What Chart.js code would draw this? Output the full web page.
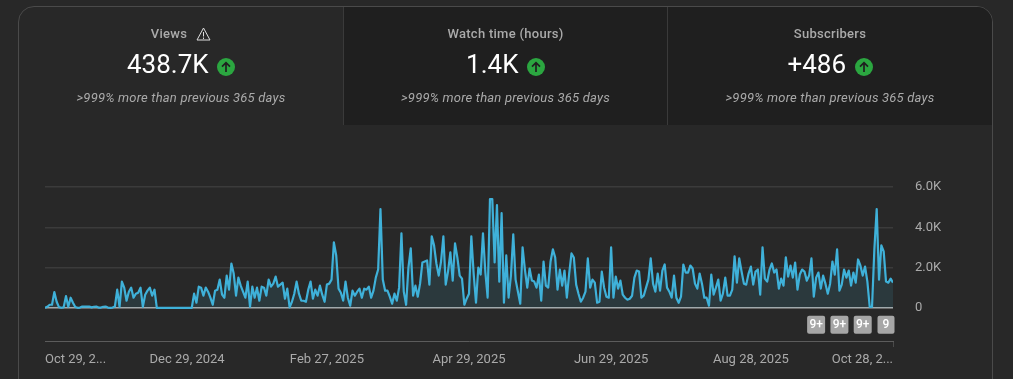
<!DOCTYPE html>
<html>
<head>
<meta charset="utf-8">
<script src="https://cdn.jsdelivr.net/npm/chart.js@4/dist/chart.umd.min.js"></script>
<style>
  html, body { margin: 0; padding: 0; background: #282828; width: 1013px; height: 379px; overflow: hidden; font-family: Roboto, sans-serif; }
  #myChart { position: absolute; left: 0; top: 125px; }
  .card { position: absolute; left: 18px; top: 6px; width: 973px; height: 400px; border: 1px solid #4a4a4a; border-radius: 16px; overflow: hidden; }
  .tab { position: absolute; top: 0; height: 118px; text-align: center; box-sizing: border-box; }
  .tab.off { background: #1f1f1f; border-left: 1px solid #3a3a3a; }
  .name { position: absolute; left: 0; right: 0; top: 19px; font-size: 13px; font-weight: 500; line-height: 16px; letter-spacing: 0.28px; color: #aaa; }
  .value { position: absolute; left: 0; right: 0; top: 39px; font-size: 26px; line-height: 36px; color: #fff; }
  .value svg { vertical-align: -3px; margin-left: 2px; }
  .delta { position: absolute; left: 0; right: 0; top: 83px; font-size: 13px; font-style: italic; line-height: 16px; letter-spacing: 0.2px; color: #aaa; }
  .warn { vertical-align: -3px; margin-left: 9px; }
</style>
</head>
<body>
<canvas id="myChart" width="1013" height="254"></canvas>
<div class="card" id="card"></div>
<script>
// top cards
const cardNames = ['Views', 'Watch time (hours)', 'Subscribers'];
const cardValues = ['438.7K', '1.4K', '+486'];
const cardDelta = '>999% more than previous 365 days';

// daily views, Oct 29 2024 -> Oct 28 2025
const viewValues = [
  0, 50, 150, 150, 780, 300, 30, 0, 20, 580, 50, 500, 250, 40, 0, 10, 60, 60, 60, 60,
  20, 50, 60, 10, 10, 50, 60, 10, 0, 10, 60, 900, 50, 1300, 1000, 350, 800, 1000, 500, 700,
  750, 1000, 50, 650, 850, 1000, 600, 900, 0, 0, 0, 0, 0, 0, 0, 0, 0, 0, 0, 0,
  0, 0, 0, 0, 700, 250, 1050, 1000, 600, 1000, 800, 500, 150, 850, 900, 1400, 650, 500, 1600, 900,
  2200, 1700, 600, 1500, 1100, 800, 500, 1300, 50, 1050, 500, 1000, 350, 1050, 1000, 600, 1400, 1050, 1200, 1550,
  1050, 1150, 1250, 450, 950, 20, 300, 700, 1300, 700, 350, 350, 300, 900, 1300, 450, 900, 600, 1100, 650,
  300, 1150, 1200, 1400, 3250, 2600, 950, 750, 350, 1300, 500, 100, 850, 600, 800, 950, 500, 950, 900, 1050,
  500, 850, 1500, 1900, 4900, 1400, 850, 850, 550, 200, 700, 350, 1000, 3700, 800, 150, 2000, 2950, 600, 1100,
  550, 1200, 2250, 2300, 2350, 1150, 3550, 3100, 2200, 1600, 2300, 3550, 1150, 1800, 2750, 1350, 3200, 2500, 1600, 1450,
  150, 450, 700, 3550, 1700, 250, 2000, 1650, 3700, 1800, 500, 5400, 5400, 2250, 5100, 1300, 4700, 250, 2600,
  500, 1600, 3650, 1400, 800, 200, 3000, 1900, 1000, 1950, 1350, 1300, 1000, 1650, 350, 2300, 1100, 1000, 2300, 2900,
  2500, 900, 1900, 1100, 1850, 500, 1700, 2700, 2500, 1150, 700, 300, 500, 800, 2450, 1000, 1400, 1250, 250, 300,
  1800, 1000, 550, 500, 3000, 500, 1550, 950, 1350, 650, 500, 400, 450, 600, 1500, 1850, 1800, 500, 600, 1000, 1400,
  2450, 1200, 800, 1700, 850, 1850, 2150, 1000, 800, 500, 1600, 500, 250, 550, 2150, 1750, 1750, 2100, 1950, 1200,
  950, 1700, 1200, 500, 500, 100, 1650, 650, 1000, 1400, 350, 700, 1500, 600, 600, 900, 2550, 1250, 2450, 1800,
  1200, 1150, 1700, 2050, 1150, 1800, 1900, 650, 3000, 1450, 1300, 1900, 2200, 1750, 1900, 950, 1450, 1100, 2500, 1550,
  2100, 1500, 2250, 900, 1650, 1900, 1800, 1350, 1600, 2450, 550, 1500, 1750, 950, 1600, 1200, 700, 1200, 2300, 1650,
  2900, 850, 1150, 1900, 1500, 1850, 1100, 1750, 1250, 2400, 2100, 1600, 2050, 1300, 50, 50, 2900, 4900, 1400, 3100,
  2800, 1300, 1250, 1450, 1250
];

// x ticks
const xTickDays = [0, 61, 121, 182, 243, 303, 364];
const xTickLabels = ['Oct 29, 2...', 'Dec 29, 2024', 'Feb 27, 2025', 'Apr 29, 2025', 'Jun 29, 2025', 'Aug 28, 2025', 'Oct 28, 2...'];
// y ticks
const yTicks = [0, 2000, 4000, 6000];
// markers under the line
const badgeDays = [331, 341, 351, 361];
const badgeLabels = ['9+', '9+', '9+', '9'];

// header html
const upIcon = '<svg width="18" height="18" viewBox="0 0 18 18"><circle cx="9" cy="9" r="9" fill="#2ba640"/>' +
  '<path d="M9 14V5M5 8.6L9 4.6L13 8.6" fill="none" stroke="#1f1f1f" stroke-width="1.7"/></svg>';
const warnIcon = '<svg class="warn" width="15" height="14" viewBox="0 0 15 14"><path d="M7.5 1L14 13H1Z" fill="none" stroke="#ddd" stroke-width="1"/>' +
  '<path d="M7.5 5V9.5M7.5 10.5V12" stroke="#ddd" stroke-width="1"/></svg>';
const tabLeft = [0, 324, 648];
const tabWidth = [324, 324, 325];
const card = document.getElementById('card');
cardNames.forEach((name, i) => {
  const tab = document.createElement('div');
  tab.className = i == 0 ? 'tab' : 'tab off';
  tab.style.left = tabLeft[i] + 'px';
  tab.style.width = tabWidth[i] + 'px';
  tab.innerHTML = '<div class="name">' + name + (i == 0 ? warnIcon : '') + '</div>' +
    '<div class="value">' + cardValues[i] + ' ' + upIcon + '</div>' +
    '<div class="delta">' + cardDelta.replace('>', '&gt;') + '</div>';
  card.appendChild(tab);
});

// grey 9+ boxes
const badgePlugin = {
  id: 'badges',
  afterDraw(chart) {
    const c = chart.ctx;
    const xs = chart.scales.x;
    const ys = chart.scales.y;
    const top = ys.getPixelForValue(-390);
    badgeDays.forEach((day, i) => {
      const x = xs.getPixelForValue(day);
      const w = badgeLabels[i].length > 1 ? 18 : 17;
      c.save();
      c.fillStyle = '#a6a6a6';
      c.beginPath();
      c.roundRect(x - w / 2, top, w, 18, 2);
      c.fill();
      c.fillStyle = '#fff';
      c.font = '500 12px Roboto';
      c.textAlign = 'center';
      c.textBaseline = 'middle';
      c.fillText(badgeLabels[i], x, top + 9.5);
      c.restore();
    });
  }
};

const ctx = document.getElementById('myChart');
const myChart = new Chart(ctx, {
  type: 'line',
  data: {
    datasets: [{
      data: viewValues.map((v, i) => ({ x: i, y: v })),
      borderColor: '#3fb1d9',
      backgroundColor: 'rgba(63, 177, 217, 0.12)',
      borderWidth: 2.2,
      borderJoinStyle: 'round',
      pointRadius: 0,
      tension: 0,
      fill: 'origin'
    }]
  },
  plugins: [badgePlugin],
  options: {
    responsive: false,
    animation: false,
    layout: { padding: { left: 45, top: 62, right: 0, bottom: 0 } },
    plugins: { legend: { display: false }, tooltip: { enabled: false } },
    scales: {
      x: {
        type: 'linear',
        min: 0,
        max: 364,
        afterBuildTicks(scale) { scale.ticks = xTickDays.map(d => ({ value: d })); },
        afterFit(scale) { scale.height = 38; },
        border: { color: '#5c5c5c', width: 1 },
        grid: {
          drawOnChartArea: false,
          tickLength: 6,
          tickColor: c => c.index == xTickDays.length - 1 ? '#4a4a4a' : 'transparent'
        },
        ticks: {
          align: 'inner',
          autoSkip: false,
          maxRotation: 0,
          padding: 5,
          color: '#aaa',
          font: { family: 'Roboto', size: 13 },
          callback: v => xTickLabels[xTickDays.indexOf(v)]
        }
      },
      y: {
        position: 'right',
        min: -1650,
        max: 6000,
        afterBuildTicks(scale) { scale.ticks = yTicks.map(v => ({ value: v })); },
        afterFit(scale) { scale.width = 120; },
        border: { display: false },
        grid: {
          drawTicks: false,
          lineWidth: 1.5,
          color: c => c.tick && c.tick.value == 0 ? '#aaaaaa' : '#3b3b3b'
        },
        ticks: {
          padding: 22,
          color: '#aaa',
          font: { family: 'Roboto', size: 13 },
          callback: v => v == 0 ? '0' : (v / 1000).toFixed(1) + 'K'
        }
      }
    }
  }
});
</script>
</body>
</html>
